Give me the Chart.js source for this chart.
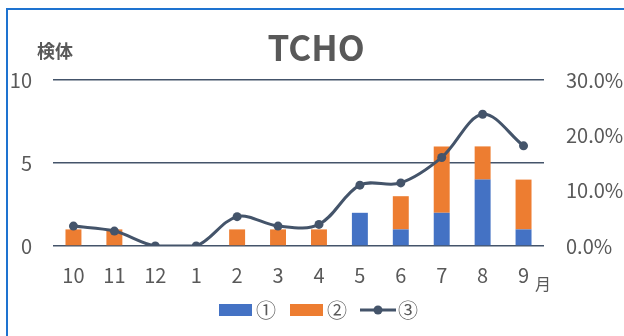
<!DOCTYPE html>
<html>
<head>
<meta charset="utf-8">
<script src="https://cdn.jsdelivr.net/npm/chart.js@4/dist/chart.umd.min.js"></script>
<style>
  html, body { margin: 0; padding: 0; background: #fff; }
  canvas { display: block; }
</style>
</head>
<body>
<canvas id="c" width="624" height="336"></canvas>
<script>
// Months of the fiscal year, October to September
const months = ['10', '11', '12', '1', '2', '3', '4', '5', '6', '7', '8', '9'];
// Sample counts per month (stacked bars, left axis)
const series1 = [0, 0, 0, 0, 0, 0, 0, 2, 1, 2, 4, 1];
const series2 = [1, 1, 0, 0, 1, 1, 1, 0, 2, 4, 2, 3];
// Rate per month in percent (line, right axis)
const series3 = [3.6, 2.7, 0, 0, 5.3, 3.6, 3.9, 11.0, 11.4, 16.0, 23.8, 18.1];
const seriesNames = ['①', '②', '③'];
const countTicks = { min: 0, max: 10, step: 5 };
const rateTicks = { min: 0, max: 30, step: 10 };

const BLUE = '#4472C4';
const ORANGE = '#ED7D31';
const SLATE = '#44546A';
const TEXT = '#595959';
const FONT = '"Noto Sans CJK JP", "Noto Sans", sans-serif';

// Legend icons drawn on small canvases
function makeIcon(w, h, draw) {
  const cv = document.createElement('canvas');
  cv.width = w; cv.height = h;
  draw(cv.getContext('2d'));
  return cv;
}
const icons = [
  makeIcon(44, 12, g => { g.fillStyle = BLUE; g.fillRect(11, 0, 33, 12); }),
  makeIcon(44, 12, g => { g.fillStyle = ORANGE; g.fillRect(11, 0, 33, 12); }),
  makeIcon(48, 12, g => {
    g.strokeStyle = SLATE; g.lineWidth = 3;
    g.beginPath(); g.moveTo(12, 6); g.lineTo(48, 6); g.stroke();
    g.fillStyle = SLATE; g.beginPath(); g.arc(30, 6, 4.5, 0, Math.PI * 2); g.fill();
  })
];

// Frame lines plus the axis unit labels
const decor = {
  id: 'decor',
  beforeDraw(chart) {
    const g = chart.ctx;
    g.save();
    g.fillStyle = '#fff';
    g.fillRect(0, 0, chart.width, chart.height);
    g.fillStyle = '#1E73D0';
    g.fillRect(6, 8, chart.width - 6, 2);
    g.fillRect(6, 8, 2, chart.height - 8);
    g.restore();
  },
  afterDraw(chart) {
    const g = chart.ctx;
    g.save();
    g.fillStyle = TEXT;
    g.textAlign = 'center';
    g.textBaseline = 'middle';
    g.font = 'bold 18px ' + FONT;
    g.fillText('検体', 55, 51);
    g.font = '16px ' + FONT;
    g.fillText('月', 543, 284);
    g.restore();
  }
};

new Chart(document.getElementById('c'), {
  data: {
    labels: months,
    datasets: [
      { type: 'bar', label: seriesNames[0], data: series1, backgroundColor: BLUE,
        yAxisID: 'y', order: 1, categoryPercentage: 1, barPercentage: 0.39 },
      { type: 'bar', label: seriesNames[1], data: series2, backgroundColor: ORANGE,
        yAxisID: 'y', order: 2, categoryPercentage: 1, barPercentage: 0.39 },
      { type: 'line', label: seriesNames[2], data: series3, borderColor: SLATE,
        backgroundColor: SLATE, borderWidth: 3, pointRadius: 4.5, pointBackgroundColor: SLATE,
        pointBorderWidth: 0, tension: 0.35, yAxisID: 'y2', order: 0 }
    ]
  },
  options: {
    responsive: false,
    animation: false,
    devicePixelRatio: 1,
    layout: { padding: { top: 0, left: 8, right: 0, bottom: 6 } },
    plugins: {
      tooltip: { enabled: false },
      title: {
        display: true,
        text: 'TCHO',
        color: TEXT,
        font: { family: FONT, size: 35, weight: 'bold' },
        padding: { top: 27, bottom: 11 }
      },
      legend: {
        position: 'bottom',
        labels: {
          usePointStyle: true,
          pointStyleWidth: 32,
          boxHeight: 12,
          padding: 9,
          color: TEXT,
          font: { family: FONT, size: 20 },
          generateLabels: chart => [0, 1, 2].map(i => ({
            text: chart.data.datasets[i].label,
            pointStyle: icons[i],
            datasetIndex: i,
            fontColor: TEXT,
            fillStyle: 'transparent',
            strokeStyle: 'transparent',
            lineWidth: 0,
            hidden: false
          }))
        }
      }
    },
    scales: {
      x: {
        stacked: true,
        grid: { display: false, drawTicks: false },
        border: { display: false },
        ticks: { color: TEXT, font: { family: FONT, size: 20 }, padding: 17, maxRotation: 0 },
        afterFit(s) { s.height = 45; }
      },
      y: {
        stacked: true,
        position: 'left',
        min: countTicks.min, max: countTicks.max,
        grid: { color: SLATE, lineWidth: 1.5, drawTicks: false },
        border: { display: false },
        ticks: { stepSize: countTicks.step, color: TEXT, font: { family: FONT, size: 20 }, padding: 21 },
        afterFit(s) { s.width = 45; }
      },
      y2: {
        position: 'right',
        min: rateTicks.min, max: rateTicks.max,
        grid: { display: false, drawTicks: false },
        border: { display: false },
        ticks: { stepSize: rateTicks.step, color: TEXT, font: { family: FONT, size: 20 }, padding: 22,
          callback: v => v.toFixed(1) + '%' },
        afterFit(s) { s.width = 80; }
      }
    }
  },
  plugins: [decor]
});
</script>
</body>
</html>
